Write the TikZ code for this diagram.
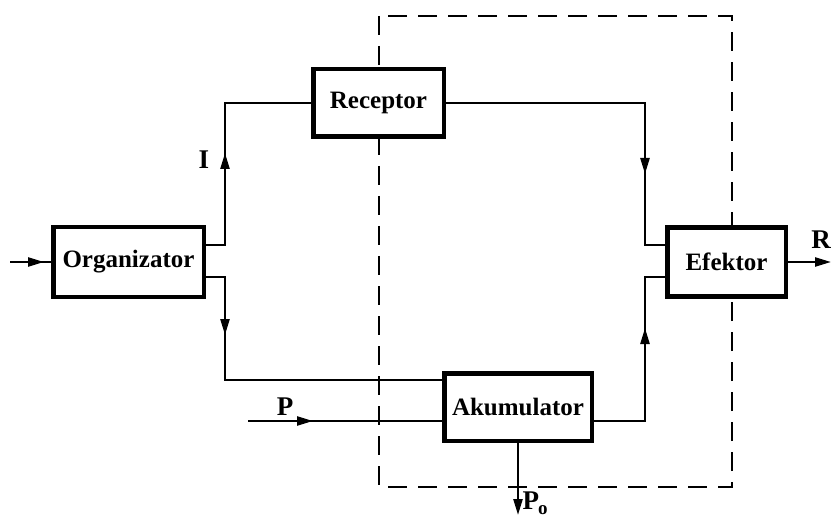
\documentclass[tikz,border=0pt]{standalone}
\usepackage{fontspec}
\setmainfont{Liberation Serif}
\usetikzlibrary{arrows.meta}
\begin{document}
\begin{tikzpicture}[x=1pt,y=-1pt,
  box/.style={draw,line width=4.5pt,fill=white,inner sep=0pt,font=\fontsize{25}{30}\selectfont\bfseries},
  conn/.style={line width=2.4pt},
  tip/.style={line width=2.4pt,-{Triangle[length=16pt,width=9pt]}},
  lbl/.style={inner sep=0pt,font=\fontsize{27}{30}\selectfont\bfseries},
  dashbox/.style={line width=2.2pt,dash pattern=on 19pt off 11pt}]
\useasboundingbox (0,0) rectangle (832,521);
% dashed boundary
\coordinate (d1) at (379,16);
\coordinate (d2) at (732,487);
\draw[dashbox] (d1) rectangle (d2);
% boxes
\node[box,minimum width=150.5pt,minimum height=69.5pt] (org) at (128.5,262) {Organizator};
\node[box,minimum width=130.5pt,minimum height=67.5pt] (rec) at (378.5,103) {Receptor};
\node[box,minimum width=118.5pt,minimum height=68.5pt] (eff) at (726.5,262) {Efektor};
\node[box,minimum width=147.5pt,minimum height=67.5pt] (ak) at (518,407) {Akumulator};
% helper coordinates
\coordinate (in) at (10,262);
\coordinate (o1) at (206,245);
\coordinate (o2) at (206,277);
\coordinate (e1) at (665,245);
\coordinate (e2) at (665,277);
\coordinate (a1) at (442,380);
\coordinate (a2) at (442,421);
\coordinate (a3) at (594,421);
\coordinate (pin) at (248,421);
\coordinate (rout) at (831,262);
\coordinate (pout) at (518,515);
% connectors
\draw[conn] (in) -- (org.west);
\draw[tip] (in) -- (44,262);
\draw[conn] (o1) -- (225,245) |- (rec.west);
\draw[tip] (225,178) -- (225,153);
\draw[conn] (rec.east) -| (645,245) -- (e1);
\draw[tip] (645,150) -- (645,174);
\draw[conn] (o2) -- (225,277) |- (a1);
\draw[tip] (225,310) -- (225,335);
\draw[conn] (pin) -- (a2);
\draw[tip] (pin) -- (313,421);
\draw[conn] (a3) -| (645,277) -- (e2);
\draw[tip] (645,352) -- (645,328);
\draw[tip] (eff.east) -- (rout);
\draw[tip] (ak.south) -- (pout);
% labels
\node[lbl] (lI) at (204,160) {I};
\node[lbl] (lR) at (821,240) {R};
\node[lbl] (lP) at (285,407) {P};
\node[lbl] (lPo) at (535,503) {P\kern-1pt\raisebox{-5pt}{\fontsize{19}{20}\selectfont o}};
\end{tikzpicture}
\end{document}
